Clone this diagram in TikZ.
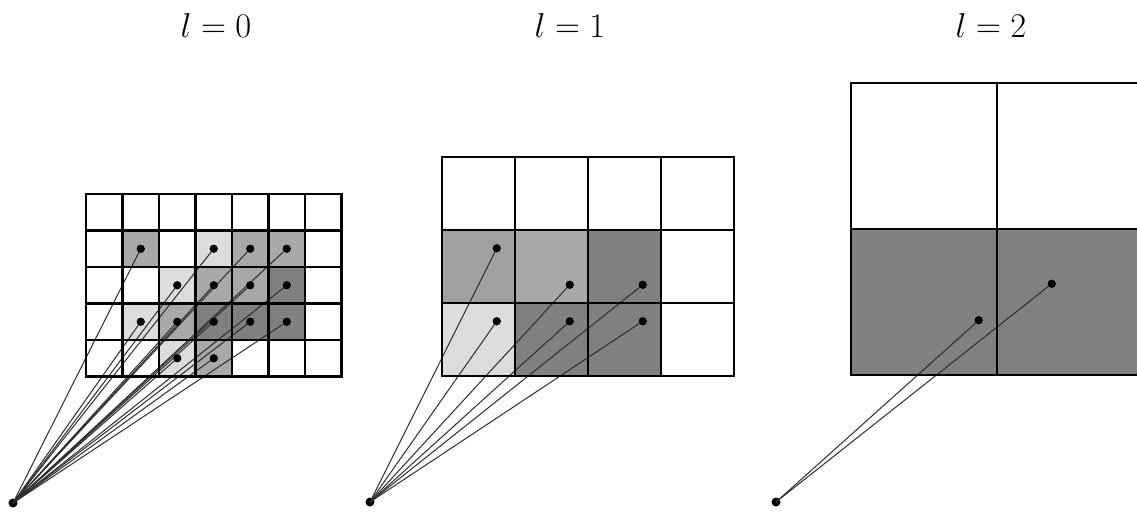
\documentclass[tikz,border=0pt]{standalone}
\definecolor{lg}{RGB}{220,220,220}
\definecolor{mg}{RGB}{168,168,168}
\definecolor{mg2}{RGB}{160,160,160}
\definecolor{dg}{RGB}{128,128,128}
\definecolor{conn}{RGB}{45,45,45}
\tikzset{
  gridln/.style={line width=1.3pt, black, line cap=rect},
  connln/.style={line width=0.5pt, conn},
  dotpt/.style={circle, fill=black, inner sep=0pt, minimum size=4pt},
  srcpt/.style={circle, fill=black, inner sep=0pt, minimum size=4.5pt},
  lvl/.style={font=\LARGE, anchor=base, inner sep=0pt}
}
\begin{document}
\begin{tikzpicture}[x=0.5pt,y=-0.5pt]
\useasboundingbox (0,0) rectangle (1137,511);
% labels
\node[lvl] (t0) at (216,37) {$l=0$};
\node[lvl] (t1) at (570,37) {$l=1$};
\node[lvl] (t2) at (991,37) {$l=2$};
% sources
\node[srcpt] (s0) at (13,503) {};
\node[srcpt] (s1) at (370,502) {};
\node[srcpt] (s2) at (776,502) {};
% grid 0
\begin{scope}[shift={(86,194)}, x=18.25pt, y=-18.25pt]
  \foreach \c/\r/\col in {1/1/mg, 3/1/lg, 4/1/mg, 5/1/mg,
                          2/2/lg, 3/2/mg, 4/2/mg, 5/2/dg,
                          1/3/lg, 2/3/mg, 3/3/dg, 4/3/dg, 5/3/dg,
                          2/4/lg, 3/4/mg}
    \fill[\col] (\c,\r) rectangle ++(1,1);
  \foreach \c/\r [count=\i] in {1/1,3/1,4/1,5/1,2/2,3/2,4/2,5/2,1/3,2/3,3/3,4/3,5/3,2/4,3/4}
    \node[dotpt] (a\i) at (\c+0.5,\r+0.5) {};
  \foreach \i in {1,...,15} \draw[connln] (s0.center) -- (a\i.center);
  \foreach \k in {0,...,7} \draw[gridln] (\k,0) -- (\k,5);
  \foreach \k in {0,...,5} \draw[gridln] (0,\k) -- (7,\k);
  \foreach \i in {1,...,15} \fill (a\i) circle[radius=2pt];
\end{scope}
% grid 1
\begin{scope}[shift={(442,157)}, x=36.5pt, y=-36.5pt]
  \fill[mg2] (0,1) rectangle ++(1,1);
  \fill[mg] (1,1) rectangle ++(1,1);
  \fill[dg] (2,1) rectangle ++(1,1);
  \fill[lg] (0,2) rectangle ++(1,1);
  \fill[dg] (1,2) rectangle ++(1,1);
  \fill[dg] (2,2) rectangle ++(1,1);
  \foreach \x/\y [count=\i] in {0.75/1.25, 1.75/1.75, 2.75/1.75, 0.75/2.25, 1.75/2.25, 2.75/2.25}
    \node[dotpt] (b\i) at (\x,\y) {};
  \foreach \i in {1,...,6} \draw[connln] (s1.center) -- (b\i.center);
  \foreach \k in {0,...,4} \draw[gridln] (\k,0) -- (\k,3);
  \foreach \k in {0,...,3} \draw[gridln] (0,\k) -- (4,\k);
  \foreach \i in {1,...,6} \fill (b\i) circle[radius=2pt];
\end{scope}
% grid 2
\begin{scope}[shift={(851,83)}, x=73pt, y=-73pt]
  \fill[dg] (0,1) rectangle (2,2);
  \node[dotpt] (c1) at (0.875,1.625) {};
  \node[dotpt] (c2) at (1.375,1.375) {};
  \draw[connln] (s2.center) -- (c1.center);
  \draw[connln] (s2.center) -- (c2.center);
  \foreach \k in {0,...,2} \draw[gridln] (\k,0) -- (\k,2);
  \foreach \k in {0,...,2} \draw[gridln] (0,\k) -- (2,\k);
  \fill (c1) circle[radius=2pt];
  \fill (c2) circle[radius=2pt];
\end{scope}
\end{tikzpicture}
\end{document}
